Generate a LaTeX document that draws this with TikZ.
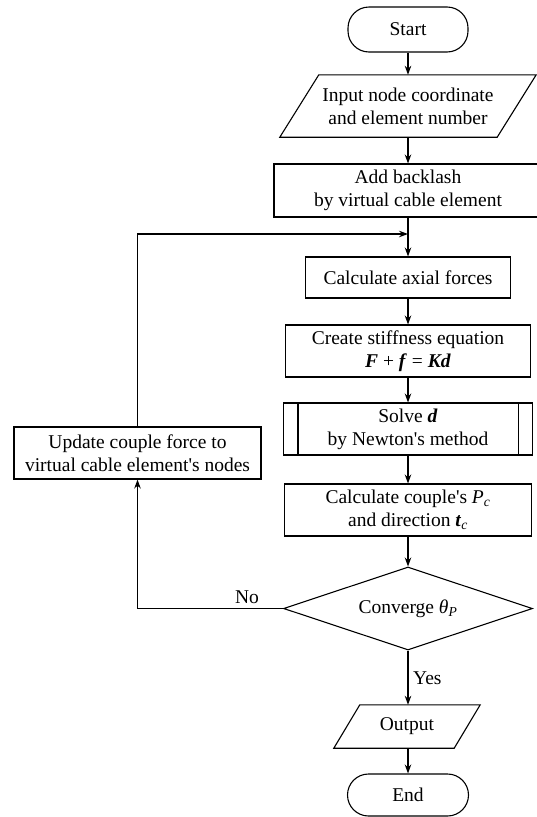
\documentclass[tikz,border=0pt]{standalone}
\usepackage{fontspec}
\setmainfont{Liberation Serif}[Ligatures=TeXOff]
\usetikzlibrary{shapes.geometric,arrows.meta,calc}
\newcommand{\bi}[1]{\textbf{\textit{#1}}}
\newcommand{\sbs}[1]{\textsubscript{\textit{#1}}}
\begin{document}
\begin{tikzpicture}[x=1pt,y=-1pt,
  every node/.style={font=\fontsize{19.5}{23}\selectfont, align=center, inner sep=0pt},
  lw/.style={line width=1.1pt},
  procbox/.style={draw, lw, rectangle, minimum width=#1},
  termbox/.style={draw, lw, rectangle, rounded corners=21pt, minimum width=#1},
  iobox/.style={rectangle, minimum width=#1},
  decbox/.style={draw, lw, diamond, aspect=3, minimum width=249pt, minimum height=83pt},
  arr/.style={lw, -{Stealth[length=9pt,width=6.5pt]}},
  lbl/.style={font=\fontsize{19.5}{23}\selectfont}
]
\useasboundingbox (0,0) rectangle (537,817);
\clip (0,0) rectangle (537,817);

\node[termbox=120pt, minimum height=45pt] (start) at (408,29.5) {Start};
\node[iobox=256pt, minimum height=62pt] (input) at (408,106) {Input node coordinate\\and element number};
\draw[lw] ($(input.north west)+(39,0)$) -- (input.north east) -- ($(input.south east)-(39,0)$) -- (input.south west) -- cycle;
\node[procbox=268pt, minimum height=53pt] (add) at (408,190.5) {Add backlash\\by virtual cable element};
\node[procbox=205pt, minimum height=41pt] (axial) at (408,277.5) {Calculate axial forces};
\node[procbox=245pt, minimum height=52pt] (stiff) at (408,351) {Create stiffness equation\\\bi{F} + \bi{f} = \bi{Kd}};
\node[procbox=249pt, minimum height=52pt] (solve) at (408,429) {Solve \bi{d}\\by Newton's method};
\draw[lw] ([xshift=15pt]solve.north west) -- ([xshift=15pt]solve.south west);
\draw[lw] ([xshift=-15pt]solve.north east) -- ([xshift=-15pt]solve.south east);
\node[procbox=247pt, minimum height=52pt] (couple) at (408,510) {Calculate couple's \textit{P}\sbs{c}\\and direction \bi{t}\sbs{c}};
\node[decbox] (conv) at (408,608.5) {Converge \textit{θ}\sbs{P}};
\node[iobox=146pt, minimum height=43pt] (output) at (407,726.5) {Output};
\draw[lw] ($(output.north west)+(26,0)$) -- (output.north east) -- ($(output.south east)-(26,0)$) -- (output.south west) -- cycle;
\node[termbox=121pt, minimum height=42pt] (end) at (408,795) {End};
\node[procbox=247pt, minimum height=52pt] (update) at (137.5,453) {Update couple force to\\virtual cable element's nodes};

\coordinate (join) at (408,234);

\draw[arr] (start) -- (input);
\draw[arr] (input) -- (add);
\draw[arr] (add) -- (axial);
\draw[arr] (axial) -- (stiff);
\draw[arr] (stiff) -- (solve);
\draw[arr] (solve) -- (couple);
\draw[arr] (couple) -- (conv);
\draw[arr] (conv) -- (output.north -| conv.south);
\draw[arr] (output.south -| end.north) -- (end);
\draw[arr] (update.north) |- (join);
\draw[arr] (conv.west) -| (update.south);

\node[lbl, anchor=south] (no) at (247,604) {No};
\node[lbl, anchor=west] (yes) at (413,678) {Yes};
\end{tikzpicture}
\end{document}
